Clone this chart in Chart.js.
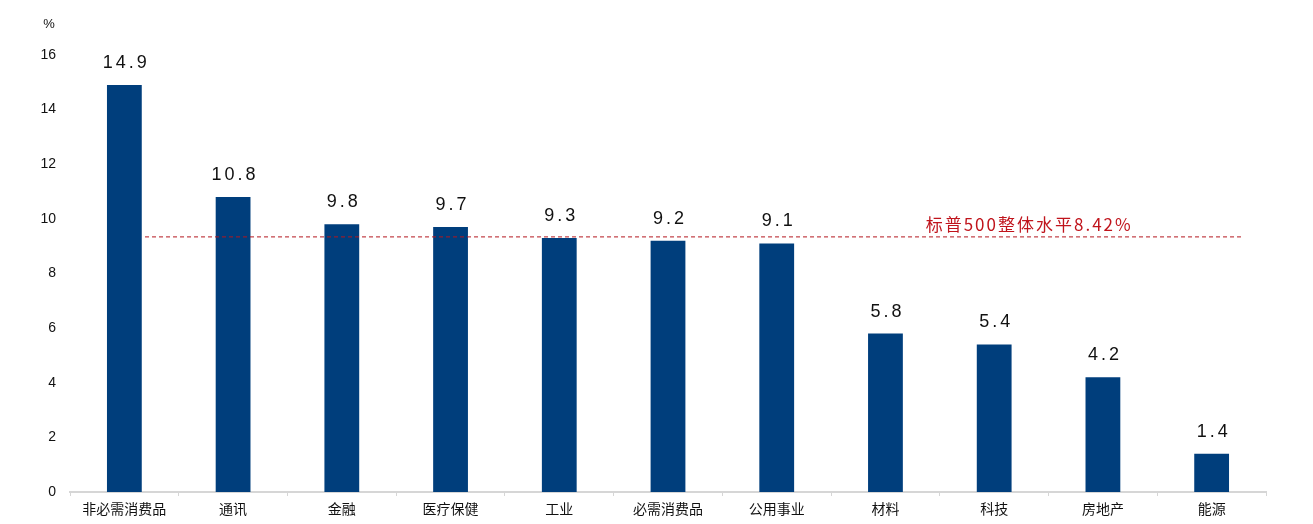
<!DOCTYPE html>
<html>
<head>
<meta charset="utf-8">
<script src="https://cdn.jsdelivr.net/npm/chart.js@4"></script>
<style>
  html, body { margin: 0; padding: 0; background: #fff; }
  #wrap { width: 1313px; height: 524px; }
</style>
</head>
<body>
<div id="wrap"><canvas id="sectorChart" width="1313" height="524"></canvas></div>
<script>
const categories = ["非必需消费品", "通讯", "金融", "医疗保健", "工业", "必需消费品", "公用事业", "材料", "科技", "房地产", "能源"];
const values = [14.9, 10.8, 9.8, 9.7, 9.3, 9.2, 9.1, 5.8, 5.4, 4.2, 1.4];
const yTicks = [0, 2, 4, 6, 8, 10, 12, 14, 16];
const refLevel = 9.34;
const refLabel = "标普500整体水平8.42%";
const cjkFont = "'Noto Sans CJK SC', 'Noto Sans', sans-serif";

const extrasPlugin = {
    id: 'extras',
    afterDatasetsDraw(chart) {
        const ctx = chart.ctx;
        const x = chart.scales.x;
        const y = chart.scales.y;
        const bars = chart.getDatasetMeta(0).data;

        // value labels above bars
        ctx.save();
        ctx.fillStyle = '#111';
        ctx.font = "18px 'Liberation Sans', sans-serif";
        ctx.textAlign = 'center';
        ctx.textBaseline = 'bottom';
        if ('letterSpacing' in ctx) ctx.letterSpacing = '3px';
        bars.forEach((bar, i) => {
            ctx.fillText(values[i].toFixed(1), bar.x + 2, bar.y - 13);
        });
        ctx.restore();

        // reference dashed line
        const yy = y.getPixelForValue(refLevel);
        ctx.save();
        ctx.strokeStyle = '#B4161E';
        ctx.lineWidth = 1;
        ctx.setLineDash([4, 3]);
        ctx.beginPath();
        ctx.moveTo(x.getPixelForValue(0.19), yy);
        ctx.lineTo(x.getPixelForValue(10.27), yy);
        ctx.stroke();
        ctx.setLineDash([]);
        ctx.fillStyle = '#C0141C';
        ctx.font = "17px " + cjkFont;
        ctx.textAlign = 'left';
        ctx.textBaseline = 'bottom';
        if ('letterSpacing' in ctx) ctx.letterSpacing = '2px';
        ctx.fillText(refLabel, x.getPixelForValue(7.37), yy - 4);
        ctx.restore();

        // unit label
        ctx.save();
        ctx.fillStyle = '#111';
        ctx.font = "13px 'Liberation Sans', sans-serif";
        ctx.textAlign = 'center';
        ctx.textBaseline = 'middle';
        ctx.fillText('%', 49, 24);
        ctx.restore();
    }
};

const ctx = document.getElementById('sectorChart').getContext('2d');
new Chart(ctx, {
    type: 'bar',
    data: {
        labels: categories,
        datasets: [{
            data: values,
            backgroundColor: '#003E7C',
            borderWidth: 0,
            categoryPercentage: 1,
            barPercentage: 0.32
        }]
    },
    options: {
        responsive: false,
        animation: false,
        layout: { padding: { top: 55, right: 47, left: 0, bottom: 0 } },
        plugins: {
            legend: { display: false },
            tooltip: { enabled: false }
        },
        scales: {
            x: {
                offset: true,
                grid: {
                    display: true,
                    offset: true,
                    drawOnChartArea: false,
                    drawTicks: true,
                    tickLength: 4,
                    color: '#D6D6D6',
                    lineWidth: 1
                },
                border: { display: true, color: '#D6D6D6', width: 2 },
                ticks: {
                    color: '#111',
                    font: { size: 14, family: cjkFont },
                    padding: 4,
                    maxRotation: 0,
                    autoSkip: false
                },
                afterFit(scale) { scale.height = 32; }
            },
            y: {
                min: 0,
                max: 16,
                afterBuildTicks(scale) { scale.ticks = yTicks.map(v => ({ value: v })); },
                grid: { display: false, drawTicks: false },
                border: { display: false },
                ticks: {
                    color: '#111',
                    font: { size: 14, family: "'Liberation Sans', sans-serif" },
                    padding: 14
                },
                afterFit(scale) { scale.width = 70; }
            }
        }
    },
    plugins: [extrasPlugin]
});
</script>
</body>
</html>
